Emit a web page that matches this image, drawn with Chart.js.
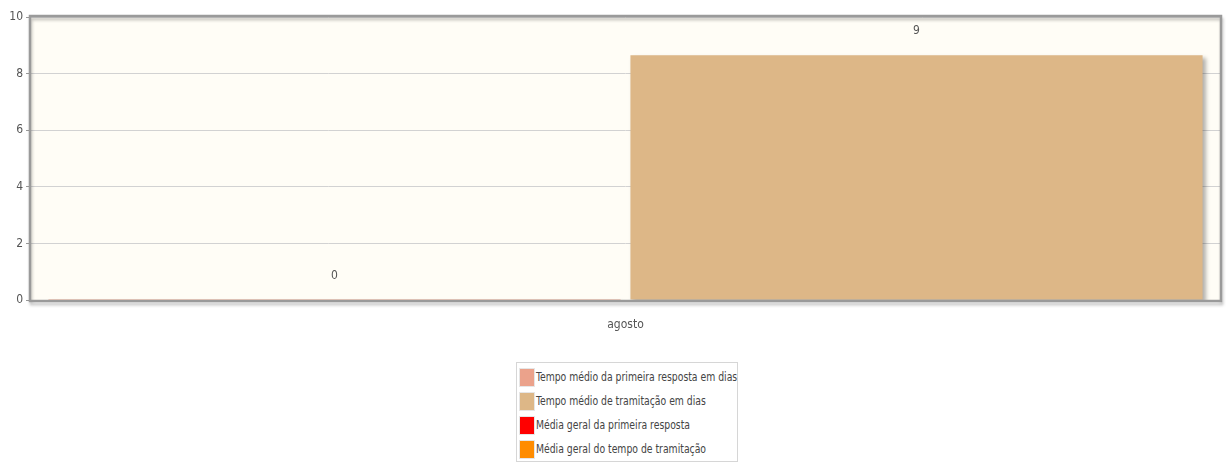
<!DOCTYPE html>
<html lang="pt">
<head>
<meta charset="utf-8">
<title>Tempo médio de resposta</title>
<script src="https://cdn.jsdelivr.net/npm/chart.js@4/dist/chart.umd.min.js"></script>
<style>
  body { margin: 0; background: #fff; font-family: "Liberation Sans Narrow", "DejaVu Sans Condensed", sans-serif; }
  #wrap { position: relative; width: 1227px; height: 462px; }
  #grafico { position: absolute; left: 0; top: 0; }
  #legenda {
    position: absolute; left: 516px; top: 362px; width: 216px;
    border: 1px solid #d6d6d6; padding: 2px 2px 0 2px;
    font-size: 12px; color: #444; background: #fff;
  }
  #legenda div { display: flex; align-items: center; height: 24px; white-space: nowrap; }
  #legenda span.cor {
    flex: none; display: inline-block; width: 14px; height: 17px; margin-right: 1px;
    border: 1px solid #e6e6e6;
  }
  /* texto estreito, como na fonte condensada original */
  #legenda span.txt { display: inline-block; transform: scaleX(0.86); transform-origin: left center; }
</style>
</head>
<body>
<div id="wrap">
  <canvas id="grafico" width="1227" height="345"></canvas>
  <div id="legenda"></div>
</div>
<script>
// --- Dados ---
const meses = ['agosto'];
const tempoPrimeiraResposta = [0];
const tempoTramitacao = [8.65];
const mediaPrimeiraResposta = [null];
const mediaTramitacao = [null];
const yTicks = [0, 2, 4, 6, 8, 10];

const FONTE = '"Liberation Sans Narrow", "DejaVu Sans Condensed", sans-serif';

/**
 * Fundo creme e moldura cinza com sombra da área de plotagem.
 */
const molduraPlugin = {
  id: 'moldura',
  beforeDraw(chart) {
    const { ctx, chartArea: a } = chart;
    ctx.save();
    ctx.fillStyle = '#fffdf6';
    ctx.fillRect(a.left, a.top, a.right - a.left, a.bottom - a.top);
    ctx.restore();
  },
  afterDraw(chart) {
    const { ctx, chartArea: a } = chart;
    ctx.save();
    ctx.shadowColor = 'rgba(0,0,0,0.25)';
    ctx.shadowOffsetX = 1;
    ctx.shadowOffsetY = 3;
    ctx.shadowBlur = 3;
    ctx.strokeStyle = '#9a9a9a';
    ctx.lineWidth = 2.5;
    ctx.strokeRect(a.left - 1, a.top - 1, a.right - a.left + 2, a.bottom - a.top + 2);
    ctx.restore();
  }
};

// Sombra das barras (deslocada para a direita e para baixo)
const sombraPlugin = {
  id: 'sombra',
  beforeDatasetDraw(chart, args) {
    if (args.meta.type !== 'bar') return;
    const ctx = chart.ctx;
    ctx.save();
    ctx.shadowColor = 'rgba(0,0,0,0.3)';
    ctx.shadowOffsetX = 3;
    ctx.shadowOffsetY = 3;
    ctx.shadowBlur = 4;
  },
  afterDatasetDraw(chart, args) {
    if (args.meta.type !== 'bar') return;
    chart.ctx.restore();
  }
};

// Valor arredondado acima de cada barra
const rotulosPlugin = {
  id: 'rotulos',
  afterDatasetsDraw(chart) {
    const ctx = chart.ctx;
    ctx.save();
    ctx.font = '12px ' + FONTE;
    ctx.fillStyle = '#555';
    ctx.textAlign = 'center';
    ctx.textBaseline = 'middle';
    chart.data.datasets.forEach((ds, i) => {
      const meta = chart.getDatasetMeta(i);
      if (meta.type !== 'bar' || meta.hidden) return;
      meta.data.forEach((bar, j) => {
        const v = ds.data[j];
        if (v === null || v === undefined) return;
        const y = chart.scales.y.getPixelForValue(v);
        ctx.fillText(String(Math.round(v)), bar.x, y - 24);
      });
    });
    ctx.restore();
  }
};

const chart = new Chart(document.getElementById('grafico'), {
  type: 'bar',
  data: {
    labels: meses,
    datasets: [
      {
        label: 'Tempo médio da primeira resposta em dias',
        data: tempoPrimeiraResposta,
        backgroundColor: '#eba28b',
        minBarLength: 1,
        categoryPercentage: 0.979,
        barPercentage: 0.983
      },
      {
        label: 'Tempo médio de tramitação em dias',
        data: tempoTramitacao,
        backgroundColor: '#ddb787',
        categoryPercentage: 0.979,
        barPercentage: 0.983
      },
      {
        type: 'line',
        label: 'Média geral da primeira resposta',
        data: mediaPrimeiraResposta,
        backgroundColor: '#ff0000',
        borderColor: '#ff0000',
        pointRadius: 0
      },
      {
        type: 'line',
        label: 'Média geral do tempo de tramitação',
        data: mediaTramitacao,
        backgroundColor: '#ff8c00',
        borderColor: '#ff8c00',
        pointRadius: 0
      }
    ]
  },
  options: {
    responsive: false,
    animation: false,
    layout: { padding: { top: 17, right: 7, left: 0, bottom: 0 } },
    plugins: {
      legend: { display: false },
      tooltip: { enabled: false }
    },
    scales: {
      x: {
        grid: { display: false },
        border: { display: false },
        ticks: { color: '#555', font: { family: FONTE, size: 12 }, padding: 10 },
        afterFit(scale) { scale.height = 45; }
      },
      y: {
        min: 0,
        max: 10,
        afterBuildTicks(scale) { scale.ticks = yTicks.map(v => ({ value: v })); },
        grid: { color: '#d2d2d2', tickColor: '#999', tickLength: 5, lineWidth: 1 },
        border: { display: false },
        ticks: { color: '#555', font: { family: FONTE, size: 12 }, padding: 3 },
        afterFit(scale) { scale.width = 31; }
      }
    }
  },
  plugins: [molduraPlugin, sombraPlugin, rotulosPlugin]
});

// Legenda em caixa, gerada a partir dos itens do próprio gráfico
const itens = Chart.defaults.plugins.legend.labels.generateLabels(chart);
const legenda = document.getElementById('legenda');
itens.forEach(item => {
  const linha = document.createElement('div');
  const cor = document.createElement('span');
  cor.className = 'cor';
  cor.style.background = item.fillStyle;
  const txt = document.createElement('span');
  txt.className = 'txt';
  txt.textContent = item.text;
  linha.appendChild(cor);
  linha.appendChild(txt);
  legenda.appendChild(linha);
});
</script>
</body>
</html>
